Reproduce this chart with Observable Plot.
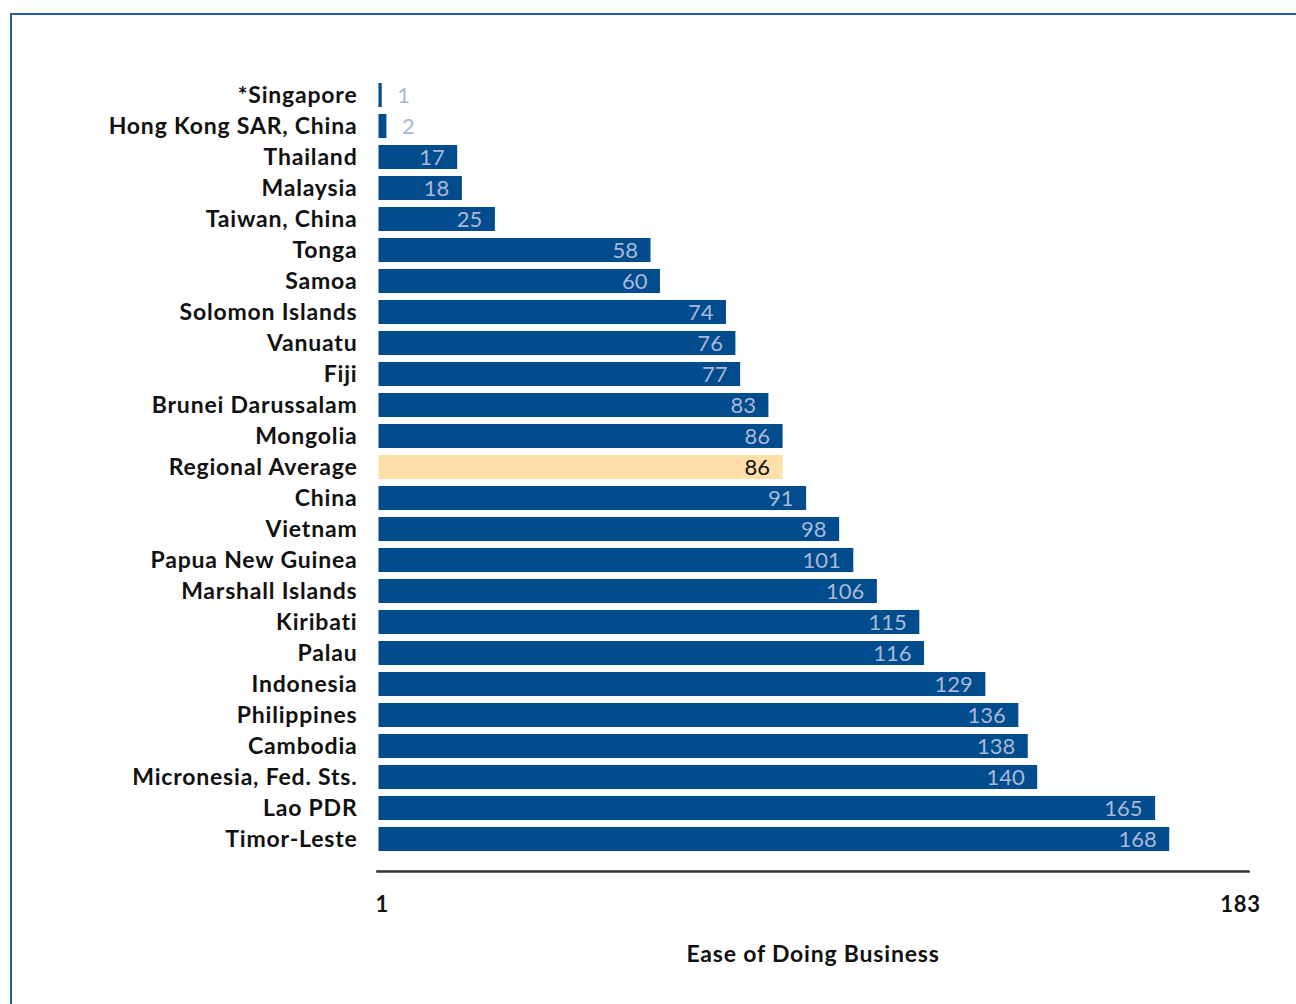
<!DOCTYPE html>
<html>
<head>
<meta charset="utf-8">
<script src="https://cdn.jsdelivr.net/npm/d3@7"></script>
<script src="https://cdn.jsdelivr.net/npm/@observablehq/plot@0.6"></script>
<style>
  html, body { margin: 0; padding: 0; background: #fff; }
  #wrap { position: relative; width: 1296px; height: 1004px; overflow: hidden; }
  #frame { position: absolute; left: 10px; top: 13px; width: 1400px; height: 1100px;
           border-top: 2px solid #285c99; border-left: 2px solid #285c99; }
  #chart { position: absolute; left: 0; top: 0; }
  #chart g[aria-label="y-axis tick label"] text,
  #chart g[aria-label="x-axis tick label"] text { letter-spacing: 0.8px; }
</style>
</head>
<body>
<div id="wrap"><div id="frame"></div><div id="chart"></div></div>
<script>
const economies = ["*Singapore", "Hong Kong SAR, China", "Thailand", "Malaysia", "Taiwan, China",
  "Tonga", "Samoa", "Solomon Islands", "Vanuatu", "Fiji", "Brunei Darussalam", "Mongolia",
  "Regional Average", "China", "Vietnam", "Papua New Guinea", "Marshall Islands", "Kiribati",
  "Palau", "Indonesia", "Philippines", "Cambodia", "Micronesia, Fed. Sts.", "Lao PDR", "Timor-Leste"];
const ranks = [1, 2, 17, 18, 25, 58, 60, 74, 76, 77, 83, 86, 86, 91, 98, 101, 106, 115, 116, 129,
  136, 138, 140, 165, 168];
const axisTicks = [1, 183];
const axisTitle = "Ease of Doing Business";
const highlight = "Regional Average";

const data = economies.map((name, i) => ({name, rank: ranks[i]}));
const inside = data.filter(d => d.rank > 5);
const outside = data.filter(d => d.rank <= 5);

const font = "Lato, 'Open Sans', sans-serif";

const chart = Plot.plot({
  width: 1296,
  height: 1004,
  marginLeft: 377,
  marginRight: 48,
  marginTop: 75,
  marginBottom: 133,
  style: {fontFamily: font, background: "transparent", color: "#111"},
  x: {domain: [0, 184.7]},
  y: {domain: economies, range: [74.9, 859], paddingInner: 0.23, paddingOuter: 0.23},
  marks: [
    Plot.barX(data, {
      y: "name", x1: 0, x2: "rank", insetLeft: 1.5,
      fill: d => d.name === highlight ? "#ffdfa8" : "#004c8d"
    }),
    Plot.text(inside, {
      y: "name", x: "rank", text: d => String(d.rank), textAnchor: "end", dx: -13,
      fill: d => d.name === highlight ? "#111" : "#aab8d8",
      fontWeight: d => d.name === highlight ? "bold" : "normal",
      fontSize: 22
    }),
    Plot.text(outside, {
      y: "name", x: "rank", text: d => String(d.rank), textAnchor: "start", dx: 15,
      fill: "#aab8d8", fontSize: 22
    }),
    Plot.axisY({tickSize: 0, tickPadding: 20, fontSize: 23, fontWeight: "bold", label: null}),
    Plot.axisX({ticks: axisTicks, tickSize: 0, tickPadding: 25, fontSize: 22, fontWeight: "bold",
      tickFormat: d => String(d), label: null}),
    Plot.frame({anchor: "bottom", stroke: "#333", strokeWidth: 2.5}),
    Plot.text([axisTitle], {frameAnchor: "bottom", dy: 83, text: d => d, fontSize: 23,
      fontWeight: "bold", lineAnchor: "middle", fill: "#111",
      render: (i, s, v, d, c, next) => { const g = next(i, s, v, d, c); g.querySelectorAll("text").forEach(t => t.style.letterSpacing = "0.8px"); return g; }})
  ]
});
document.getElementById("chart").appendChild(chart);
</script>
</body>
</html>
